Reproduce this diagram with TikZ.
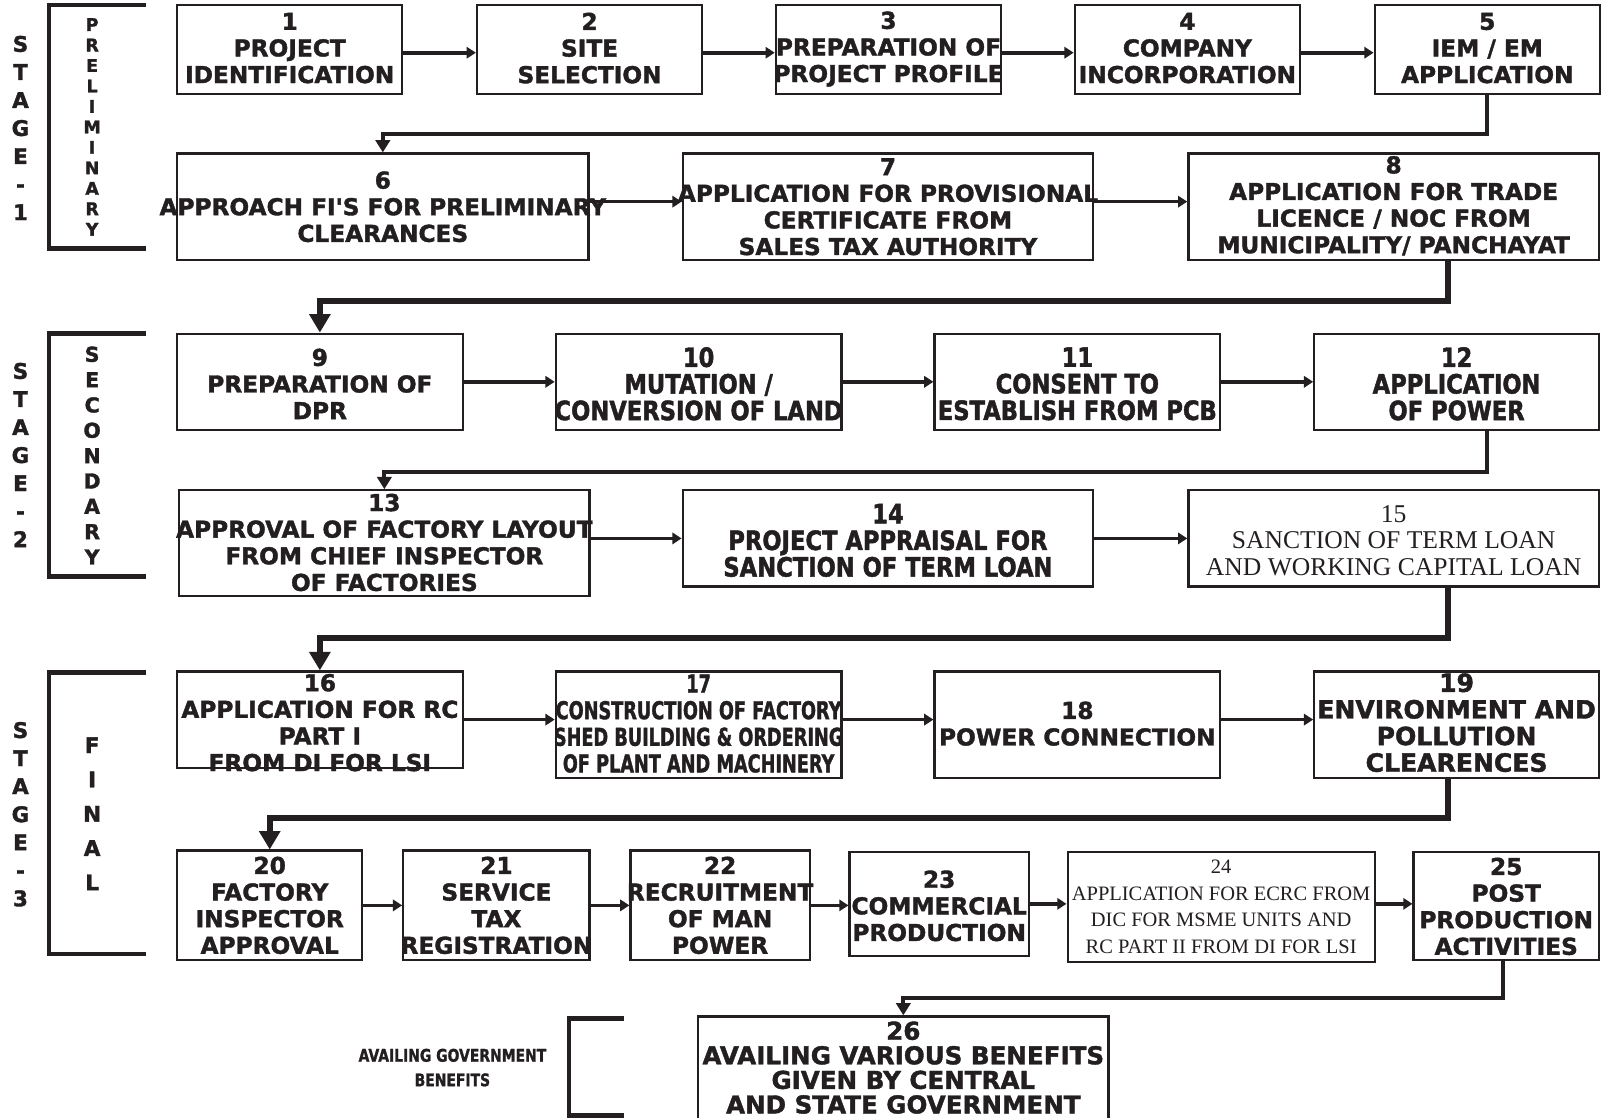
\documentclass[tikz,border=0pt]{standalone}
\usepackage{fontspec}
\setmainfont{Liberation Serif}
\newfontfamily\hv{DejaVu Sans}[FakeBold=1.6]
\newfontfamily\hvc{DejaVu Sans}[FakeStretch=0.85,FakeBold=1.6]
\newfontfamily\hvcc{DejaVu Sans}[FakeStretch=0.72,FakeBold=1.4]
\newfontfamily\hvl{DejaVu Sans}[FakeStretch=0.8,FakeBold=1.2]
\usetikzlibrary{arrows.meta}
\definecolor{ink}{RGB}{35,31,32}
\tikzset{
  box/.style={draw=ink, line width=2.2pt, rectangle, inner sep=0pt},
  txt/.style={align=center, inner sep=0pt, text=ink},
  fw/.style={txt, font=\hv\bfseries\fontsize{22.7}{26}\selectfont},
  fwb/.style={txt, font=\hv\bfseries\fontsize{24.5}{26}\selectfont},
  fwg/.style={txt, font=\hv\bfseries\fontsize{24}{24}\selectfont},
  fc/.style={txt, font=\hvc\bfseries\fontsize{26}{26}\selectfont},
  fcc/.style={txt, font=\hvcc\bfseries\fontsize{24}{26}\selectfont},
  fl/.style={txt, font=\hvl\bfseries\fontsize{17}{24}\selectfont},
  fr/.style={txt, font=\fontsize{25}{26}\selectfont},
  frs/.style={txt, font=\fontsize{20}{26}\selectfont},
  stg/.style={txt, font=\hv\bfseries\fontsize{21}{27.4}\selectfont},
  harrow/.style={draw=ink, line width=3.5pt, -{Triangle[length=9pt,width=11pt]}},
  conn/.style={draw=ink, line width=4pt, line join=miter, -{Triangle[length=12pt,width=14pt]}},
  connb/.style={draw=ink, line width=6pt, line join=miter, -{Triangle[length=18pt,width=20pt]}},
  bracket/.style={draw=ink, line width=4.5pt, line join=miter}
}
\begin{document}
\begin{tikzpicture}[x=1pt,y=-1pt]
\useasboundingbox[fill=white] (0,0) rectangle (1568,1092);

% ---------- brackets and stage labels ----------
\draw[bracket] (143,5) -| (48,243) -- (143,243);
\draw[bracket] (143,326) -| (48,563) -- (143,563);
\draw[bracket] (143,657) -| (48,932) -- (143,932);
\draw[bracket] (610,995) -| (556,1090) -- (610,1090);

\node[stg] (s1) at (20,125) {S\\T\\A\\G\\E\\-\\1};
\node[stg] (s2) at (20,444.5) {S\\T\\A\\G\\E\\-\\2};
\node[stg] (s3) at (20,795.5) {S\\T\\A\\G\\E\\-\\3};
\node[txt, font=\hv\bfseries\fontsize{17}{20}\selectfont] (p1) at (90,124) {P\\R\\E\\L\\I\\M\\I\\N\\A\\R\\Y};
\node[txt, font=\hv\bfseries\fontsize{20}{24.75}\selectfont] (p2) at (90,445) {S\\E\\C\\O\\N\\D\\A\\R\\Y};
\node[txt, font=\hv\bfseries\fontsize{21}{33.5}\selectfont] (p3) at (90,795) {F\\I\\N\\A\\L};
\node[fl] (lab) at (442,1043) {AVAILING GOVERNMENT\\BENEFITS};

% ---------- boxes ----------
\node[box, minimum width=220, minimum height=87] (b1) at (283,48.5) {};
\node[box, minimum width=220, minimum height=87] (b2) at (576,48.5) {};
\node[box, minimum width=220, minimum height=87] (b3) at (868,48.5) {};
\node[box, minimum width=220, minimum height=87] (b4) at (1160,48.5) {};
\node[box, minimum width=220, minimum height=87] (b5) at (1453,48.5) {};

\node[box, minimum width=402, minimum height=104] (b6) at (374,202) {};
\node[box, minimum width=401, minimum height=104] (b7) at (867.5,202) {};
\node[box, minimum width=401, minimum height=104] (b8) at (1361.5,202) {};

\node[box, minimum width=279, minimum height=94] (b9) at (312.5,373) {};
\node[box, minimum width=279, minimum height=94] (b10) at (682.5,373) {};
\node[box, minimum width=279, minimum height=94] (b11) at (1052.5,373) {};
\node[box, minimum width=278, minimum height=94] (b12) at (1423,373) {};

\node[box, minimum width=401, minimum height=103] (b13) at (375.5,530.5) {};
\node[box, minimum width=401, minimum height=94] (b14) at (867.5,526) {};
\node[box, minimum width=401, minimum height=94] (b15) at (1361.5,526) {};

\node[box, minimum width=279, minimum height=94] (b16) at (312.5,703) {};
\node[box, minimum width=279, minimum height=104] (b17) at (682.5,708) {};
\node[box, minimum width=279, minimum height=104] (b18) at (1052.5,708) {};
\node[box, minimum width=278, minimum height=104] (b19) at (1423,708) {};

\node[box, minimum width=181, minimum height=107] (b20) at (263.5,884.5) {};
\node[box, minimum width=182, minimum height=107] (b21) at (485,884.5) {};
\node[box, minimum width=175, minimum height=107] (b22) at (703.5,884.5) {};
\node[box, minimum width=175, minimum height=102] (b23) at (917.5,883) {};
\node[box, minimum width=300, minimum height=108] (b24) at (1193,886) {};
\node[box, minimum width=181, minimum height=106] (b25) at (1471.5,885) {};
\node[box, minimum width=401, minimum height=117] (b26) at (882.5,1051.5) {};

% ---------- texts ----------
\node[fw] (t1) at (283,47) {1\\PROJECT\\IDENTIFICATION};
\node[fw] (t2) at (576,47) {2\\SITE\\SELECTION};
\node[fw] (t3) at (868,48) {3\\PREPARATION OF\\PROJECT PROFILE};
\node[fw] (t4) at (1160,47) {4\\COMPANY\\INCORPORATION};
\node[fw] (t5) at (1453,47) {5\\IEM / EM\\APPLICATION};

\node[fw] (t6) at (374,202) {6\\APPROACH FI'S FOR PRELIMINARY\\CLEARANCES};
\node[fw] (t7) at (867.5,202) {7\\APPLICATION FOR PROVISIONAL\\CERTIFICATE FROM\\SALES TAX AUTHORITY};
\node[fw] (t8) at (1361.5,201) {8\\APPLICATION FOR TRADE\\LICENCE / NOC FROM\\MUNICIPALITY/ PANCHAYAT};

\node[fw] (t9) at (312.5,375) {9\\PREPARATION OF\\DPR};
\node[fc] (t10) at (682.5,375) {10\\MUTATION /\\CONVERSION OF LAND};
\node[fc] (t11) at (1052.5,375) {11\\CONSENT TO\\ESTABLISH FROM PCB};
\node[fc] (t12) at (1423,375) {12\\APPLICATION\\OF POWER};

\node[fw] (t13) at (375.5,530) {13\\APPROVAL OF FACTORY LAYOUT\\FROM CHIEF INSPECTOR\\OF FACTORIES};
\node[fc] (t14) at (867.5,528) {14\\PROJECT APPRAISAL FOR\\SANCTION OF TERM LOAN};
\node[fr] (t15) at (1361.5,528) {15\\SANCTION OF TERM LOAN\\AND WORKING CAPITAL LOAN};

\node[fw] (t16) at (312.5,706) {16\\APPLICATION FOR RC\\PART I\\FROM DI FOR LSI};
\node[fcc] (t17) at (682.5,707) {17\\CONSTRUCTION OF FACTORY\\SHED BUILDING \& ORDERING\\OF PLANT AND MACHINERY};
\node[fw] (t18) at (1052.5,707) {18\\POWER CONNECTION};
\node[fwb] (t19) at (1423,706) {19\\ENVIRONMENT AND\\POLLUTION\\CLEARENCES};

\node[fw] (t20) at (263.5,884.5) {20\\FACTORY\\INSPECTOR\\APPROVAL};
\node[fw] (t21) at (485,884.5) {21\\SERVICE\\TAX\\REGISTRATION};
\node[fw] (t22) at (703.5,884.5) {22\\RECRUITMENT\\OF MAN\\POWER};
\node[fw] (t23) at (917.5,885) {23\\COMMERCIAL\\PRODUCTION};
\node[frs] (t24) at (1193,886) {24\\APPLICATION FOR ECRC FROM\\DIC FOR MSME UNITS AND\\RC PART II FROM DI FOR LSI};
\node[fw] (t25) at (1471.5,885.5) {25\\POST\\PRODUCTION\\ACTIVITIES};
\node[fwg] (t26) at (882.5,1043) {26\\AVAILING VARIOUS BENEFITS\\GIVEN BY CENTRAL\\AND STATE GOVERNMENT};

% ---------- horizontal arrows ----------
\draw[harrow] ([yshift=-3]b1.east) -- ([yshift=-3]b2.west);
\draw[harrow] ([yshift=-3]b2.east) -- ([yshift=-3]b3.west);
\draw[harrow] ([yshift=-3]b3.east) -- ([yshift=-3]b4.west);
\draw[harrow] ([yshift=-3]b4.east) -- ([yshift=-3]b5.west);

\draw[harrow] ([yshift=5]b6.east) -- ([yshift=5]b7.west);
\draw[harrow] ([yshift=5]b7.east) -- ([yshift=5]b8.west);

\draw[harrow] (b9.east) -- (b10.west);
\draw[harrow] (b10.east) -- (b11.west);
\draw[harrow] (b11.east) -- (b12.west);

\draw[harrow] (b13.east |- b14.west) -- (b14.west);
\draw[harrow] (b14.east) -- (b15.west);

\draw[harrow] (b16.east) -- (b16.east -| b17.west);
\draw[harrow] ([yshift=5]b17.east) -- ([yshift=5]b18.west);
\draw[harrow] ([yshift=5]b18.east) -- ([yshift=5]b19.west);

\draw[harrow] (b20.east) -- (b20.east -| b21.west);
\draw[harrow] (b21.east) -- (b21.east -| b22.west);
\draw[harrow] (b22.east) -- (b22.east -| b23.west);
\draw[harrow] (b23.east) -- (b23.east -| b24.west);
\draw[harrow] (b24.east |- b23.east) -- (b23.east -| b25.west);

% ---------- row-to-row connectors ----------
\draw[conn] (b5.south) -- ++(0,38) -| (b6.north);
\draw[connb] ([xshift=53.5]b8.south) -- ++(0,39) -| (b9.north);
\draw[conn] ([xshift=30]b12.south) -- ++(0,40) -| (b13.north);
\draw[connb] ([xshift=53.5]b15.south) -- ++(0,49) -| (b16.north);
\draw[connb] ([xshift=-8]b19.south) -- ++(0,38) -| (b20.north);
\draw[conn] ([xshift=-3.5]b25.south) -- ++(0,36) -| (b26.north);
\end{tikzpicture}
\end{document}
